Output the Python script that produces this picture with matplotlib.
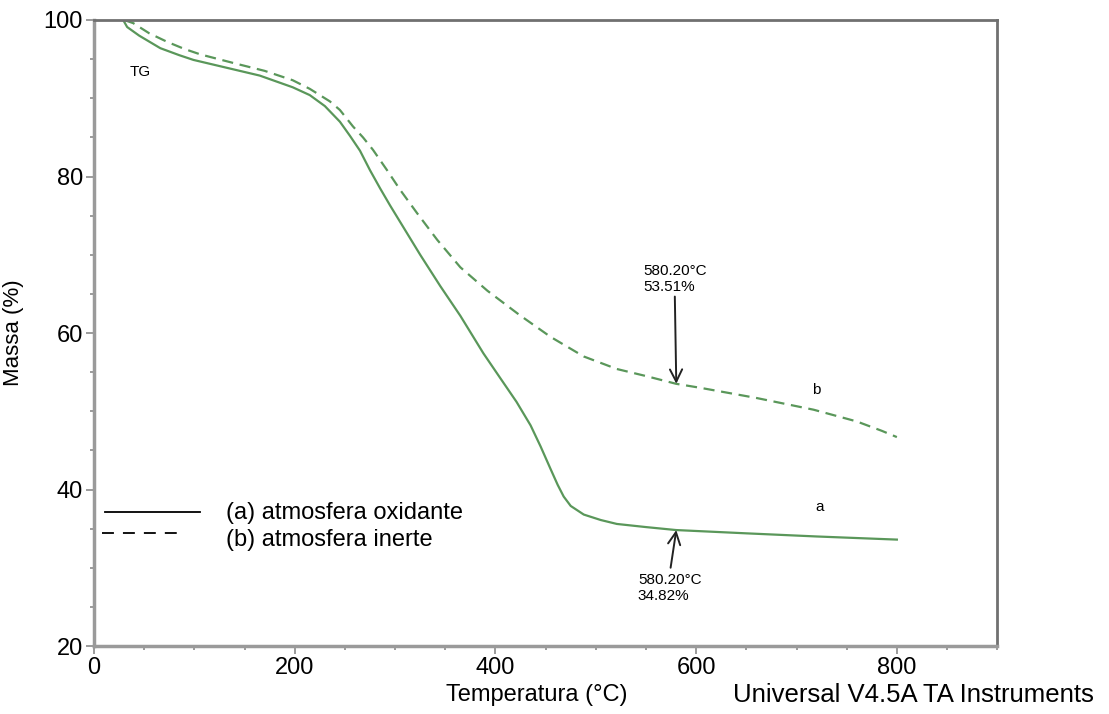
import matplotlib
matplotlib.use("Agg")
from matplotlib import pyplot as plt
from matplotlib.ticker import MultipleLocator

plt.rcParams['font.family'] = ['Liberation Sans', 'DejaVu Sans']

# curve a: atmosfera oxidante
temp_a = [29, 33, 45, 66, 85, 99, 132, 165, 198, 215, 230, 245, 255, 265, 275,
          285, 295, 305, 325, 345, 365, 388, 405, 421, 435, 445, 455, 462, 468,
          475, 488, 505, 521, 550, 580, 650, 720, 800]
mass_a = [100, 99.1, 98.0, 96.4, 95.5, 94.9, 93.9, 92.9, 91.4, 90.4, 89.0, 87.0,
          85.2, 83.3, 80.8, 78.5, 76.3, 74.2, 70.0, 66.0, 62.2, 57.4, 54.2, 51.2,
          48.2, 45.5, 42.6, 40.6, 39.1, 37.9, 36.8, 36.1, 35.6, 35.2, 34.82, 34.4,
          34.0, 33.6]

# curve b: atmosfera inerte
temp_b = [30, 39, 55, 73, 90, 106, 139, 170, 198, 215, 225, 235, 245, 258, 268,
          278, 292, 305, 322, 342, 365, 392, 424, 455, 488, 521, 550, 580, 604,
          660, 717, 760, 785, 800]
mass_b = [100, 99.6, 98.3, 97.2, 96.3, 95.6, 94.5, 93.5, 92.3, 91.2, 90.4, 89.6,
          88.5, 86.4, 85.0, 83.4, 80.8, 78.3, 75.3, 71.9, 68.4, 65.4, 62.3, 59.5,
          57.0, 55.4, 54.5, 53.51, 53.0, 51.7, 50.2, 48.7, 47.5, 46.7]

mark_temp = 580.20
mark_a = 34.82
mark_b = 53.51

green = '#5a975a'
gray = '#8a8a8a'

fig = plt.figure(figsize=(11.09, 7.14), dpi=100)
ax = fig.add_axes([0.0848, 0.0952, 0.8144, 0.8768])

ax.plot(temp_a, mass_a, color=green, lw=1.6)
ax.plot(temp_b, mass_b, color=green, lw=1.6, linestyle=(0, (5, 3)))

ax.set_xlim(0, 900)
ax.set_ylim(20, 100)
ax.xaxis.set_major_locator(MultipleLocator(200))
ax.xaxis.set_minor_locator(MultipleLocator(50))
ax.yaxis.set_major_locator(MultipleLocator(20))
ax.yaxis.set_minor_locator(MultipleLocator(5))
ax.tick_params(which='major', direction='out', length=6, width=1.2, color=gray,
               labelsize=17, pad=2)
ax.tick_params(which='minor', direction='out', length=3, width=1.2, color=gray)
for side in ['left', 'bottom']:
    ax.spines[side].set_color('#9a9a9a')
    ax.spines[side].set_linewidth(2.5)
for side in ['top', 'right']:
    ax.spines[side].set_color('#707070')
    ax.spines[side].set_linewidth(2)

ax.set_ylabel('Massa (%)', fontsize=16, labelpad=14)
fig.text(0.484, 0.027, 'Temperatura (°C)', fontsize=17, ha='center', va='center')
fig.text(0.824, 0.027, 'Universal V4.5A TA Instruments', fontsize=18.5,
         ha='center', va='center')

ax.text(46, 93.4, 'TG', fontsize=11, ha='center', va='center')
ax.text(720, 52.7, 'b', fontsize=11, ha='center', va='center')
ax.text(723, 37.8, 'a', fontsize=11, ha='center', va='center')

ax.annotate('580.20°C\n53.51%', xy=(mark_temp, mark_b), xytext=(547, 68.8),
            fontsize=11, ha='left', va='top', linespacing=1.15,
            arrowprops=dict(arrowstyle='->', color='#222222', lw=1.4,
                            shrinkA=0, shrinkB=0, mutation_scale=22,
                            relpos=(0.5, 0.0)))
ax.annotate('580.20°C\n34.82%', xy=(mark_temp, mark_a), xytext=(542, 29.3),
            fontsize=11, ha='left', va='top', linespacing=1.15,
            arrowprops=dict(arrowstyle='->', color='#222222', lw=1.4,
                            shrinkA=2, shrinkB=0, mutation_scale=22,
                            relpos=(0.5, 1.0)))

# hand-drawn style legend
ax.plot([11, 106], [37.1, 37.1], color='black', lw=1.3)
ax.plot([8, 86], [34.4, 34.4], color='black', lw=1.3, linestyle=(0, (6.6, 5)))
ax.text(131, 37.0, '(a) atmosfera oxidante', fontsize=17, va='center')
ax.text(131, 33.6, '(b) atmosfera inerte', fontsize=17, va='center')

fig.savefig('out.png', dpi=100)
